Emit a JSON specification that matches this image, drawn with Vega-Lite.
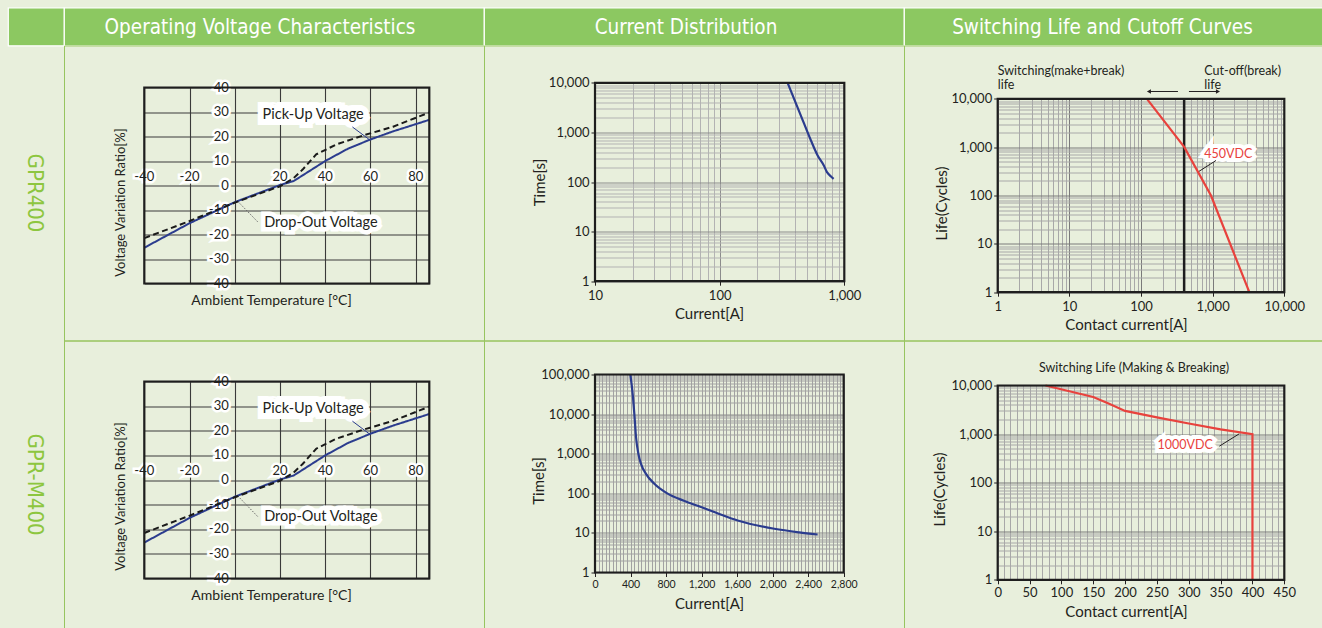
{
  "$schema": "https://vega.github.io/schema/vega-lite/v6.json",
  "background": "#e8efdc",
  "padding": {"left": 7, "top": 6.5, "right": 0, "bottom": 0},
  "columns": 4,
  "spacing": 0,
  "bounds": "flush",
  "align": "each",
  "config": {
    "view": {"stroke": null},
    "text": {"font": "Lato"},
    "axis": {"labelFont": "Lato", "titleFont": "Lato", "labelColor": "#231f20", "titleColor": "#231f20", "titleFontWeight": "normal", "tickColor": "#231f20", "labelFlush": false, "labelOverlap": false}
  },
  "datasets": {
    "volt": [
      {"temp": -40, "ratio": -25.4, "curve": "Pick-Up Voltage"},
      {"temp": -20, "ratio": -15.4, "curve": "Pick-Up Voltage"},
      {"temp": 0, "ratio": -6.8, "curve": "Pick-Up Voltage"},
      {"temp": 20, "ratio": 0.2, "curve": "Pick-Up Voltage"},
      {"temp": 26, "ratio": 1.8, "curve": "Pick-Up Voltage"},
      {"temp": 40, "ratio": 10, "curve": "Pick-Up Voltage"},
      {"temp": 50, "ratio": 15, "curve": "Pick-Up Voltage"},
      {"temp": 60, "ratio": 18.8, "curve": "Pick-Up Voltage"},
      {"temp": 70, "ratio": 22.1, "curve": "Pick-Up Voltage"},
      {"temp": 86, "ratio": 26.8, "curve": "Pick-Up Voltage"},
      {"temp": -40, "ratio": -21.5, "curve": "Drop-Out Voltage"},
      {"temp": -20, "ratio": -14.5, "curve": "Drop-Out Voltage"},
      {"temp": 0, "ratio": -7, "curve": "Drop-Out Voltage"},
      {"temp": 20, "ratio": -0.3, "curve": "Drop-Out Voltage"},
      {"temp": 26, "ratio": 3, "curve": "Drop-Out Voltage"},
      {"temp": 30, "ratio": 6.5, "curve": "Drop-Out Voltage"},
      {"temp": 36, "ratio": 12.7, "curve": "Drop-Out Voltage"},
      {"temp": 45, "ratio": 16.8, "curve": "Drop-Out Voltage"},
      {"temp": 57, "ratio": 20.5, "curve": "Drop-Out Voltage"},
      {"temp": 70, "ratio": 24, "curve": "Drop-Out Voltage"},
      {"temp": 86, "ratio": 29.8, "curve": "Drop-Out Voltage"}
    ],
    "vyt": [{"v": -40}, {"v": -30}, {"v": -20}, {"v": -10}, {"v": 0}, {"v": 10}, {"v": 20}, {"v": 30}, {"v": 40}],
    "vxt": [{"v": -40}, {"v": -20}, {"v": 20}, {"v": 40}, {"v": 60}, {"v": 80}],
    "cur1": [
      {"current": 351, "time": 10000}, {"current": 449, "time": 2160}, {"current": 540, "time": 687},
      {"current": 611, "time": 342}, {"current": 685, "time": 215}, {"current": 726, "time": 158},
      {"current": 782, "time": 129}, {"current": 821, "time": 116}
    ],
    "cur2": [
      {"current": 398, "time": 100000}, {"current": 424, "time": 32500}, {"current": 443, "time": 10000},
      {"current": 462, "time": 2600}, {"current": 488, "time": 1000}, {"current": 518, "time": 555},
      {"current": 574, "time": 310}, {"current": 668, "time": 174}, {"current": 818, "time": 98},
      {"current": 1000, "time": 65}, {"current": 1193, "time": 45}, {"current": 1400, "time": 30},
      {"current": 1606, "time": 20.6}, {"current": 2019, "time": 12.7}, {"current": 2300, "time": 10.3},
      {"current": 2506, "time": 9.1}
    ],
    "life1": [
      {"current": 121, "life": 10000}, {"current": 402, "life": 1000}, {"current": 948, "life": 100}, {"current": 3250, "life": 1}
    ],
    "life2": [
      {"current": 75, "life": 10000}, {"current": 150, "life": 5800}, {"current": 175, "life": 4200},
      {"current": 200, "life": 3000}, {"current": 250, "life": 2200}, {"current": 300, "life": 1650},
      {"current": 350, "life": 1250}, {"current": 400, "life": 1000}, {"current": 400, "life": 1}
    ]
  },
  "concat": [
    {"width": 56, "height": 38, "data": {"values": [{"t": ""}]}, "mark": {"type": "text"}, "encoding": {"text": {"field": "t"}}, "view": {"fill": "#8cc861", "stroke": "#ffffff", "strokeWidth": 1.2}},
    {"width": 420, "height": 38, "data": {"values": [{"t": "Operating Voltage Characteristics"}]}, "mark": {"type": "text", "font": "Liberation Sans Narrow, DejaVu Sans Condensed, Open Sans", "fontSize": 20.5, "fill": "#ffffff", "baseline": "middle", "align": "center", "dx": -14, "dy": 1}, "encoding": {"text": {"field": "t"}}, "view": {"fill": "#8cc861", "stroke": "#ffffff", "strokeWidth": 1.2}},
    {"width": 420, "height": 38, "data": {"values": [{"t": "Current Distribution"}]}, "mark": {"type": "text", "font": "Liberation Sans Narrow, DejaVu Sans Condensed, Open Sans", "fontSize": 20.5, "fill": "#ffffff", "baseline": "middle", "align": "center", "dx": -8, "dy": 1}, "encoding": {"text": {"field": "t"}}, "view": {"fill": "#8cc861", "stroke": "#ffffff", "strokeWidth": 1.2}},
    {"width": 419, "height": 38, "data": {"values": [{"t": "Switching Life and Cutoff Curves"}]}, "mark": {"type": "text", "font": "Liberation Sans Narrow, DejaVu Sans Condensed, Open Sans", "fontSize": 20.5, "fill": "#ffffff", "baseline": "middle", "align": "center", "dx": -11, "dy": 1}, "encoding": {"text": {"field": "t"}}, "view": {"fill": "#8cc861", "stroke": "#ffffff", "strokeWidth": 1.2}},

    {"width": 56, "height": 295, "data": {"values": [{"t": "GPR400"}]}, "mark": {"type": "text", "angle": 90, "font": "Liberation Sans Narrow, DejaVu Sans Condensed, Open Sans", "fontSize": 22, "fill": "#8dc63f", "baseline": "middle", "align": "center", "dy": 1}, "encoding": {"text": {"field": "t"}}},
    {
      "width": 420, "height": 295,
      "view": {"stroke": "#97c45f", "strokeWidth": 1},
      "resolve": {"axis": {"x": "independent", "y": "independent"}},
      "layer": [
        {"data": {"name": "vyt"}, "mark": {"type": "text", "align": "right", "baseline": "middle", "dx": -6, "fontSize": 13, "fill": "#ffffff", "stroke": "#ffffff", "strokeWidth": 5, "strokeJoin": "miter"},
         "encoding": {"x": {"datum": 0, "type": "quantitative", "scale": {"domain": [-40, 86], "range": [80.3, 365.3], "nice": false, "zero": false}, "axis": null}, "y": {"field": "v", "type": "quantitative", "scale": {"domain": [-40, 40], "range": [238, 42], "nice": false, "zero": false}, "axis": null}, "text": {"field": "v", "type": "nominal"}}},
        {"data": {"name": "vyt"}, "mark": {"type": "text", "align": "right", "baseline": "middle", "dx": -6, "fontSize": 13, "fill": "#231f20"},
         "encoding": {"x": {"datum": 0, "type": "quantitative", "axis": null}, "y": {"field": "v", "type": "quantitative", "axis": null}, "text": {"field": "v", "type": "nominal"}}},
        {"data": {"name": "vxt"}, "mark": {"type": "text", "align": "center", "baseline": "bottom", "dy": -2, "fontSize": 13, "fill": "#ffffff", "stroke": "#ffffff", "strokeWidth": 5, "strokeJoin": "miter"},
         "encoding": {"x": {"field": "v", "type": "quantitative", "axis": null}, "y": {"datum": 0, "type": "quantitative", "axis": null}, "text": {"field": "v", "type": "nominal"}}},
        {"data": {"name": "vxt"}, "mark": {"type": "text", "align": "center", "baseline": "bottom", "dy": -2, "fontSize": 13, "fill": "#231f20"},
         "encoding": {"x": {"field": "v", "type": "quantitative", "axis": null}, "y": {"datum": 0, "type": "quantitative", "axis": null}, "text": {"field": "v", "type": "nominal"}}},
        {"data": {"values": [{"label": "Pick-Up Voltage"}]},
         "encoding": {"x": {"datum": 12.3, "type": "quantitative", "axis": null}, "y": {"datum": 28.7, "type": "quantitative", "axis": null}, "text": {"field": "label", "type": "nominal"}},
         "layer": [
           {"mark": {"type": "text", "align": "left", "baseline": "middle", "fontSize": 14.5, "fill": "#ffffff", "stroke": "#ffffff", "strokeWidth": 12, "strokeJoin": "miter"}},
           {"mark": {"type": "text", "align": "left", "baseline": "middle", "fontSize": 14.5, "fill": "#231f20"}}
         ]},
        {"data": {"values": [{"label": "Drop-Out Voltage"}]},
         "encoding": {"x": {"datum": 13, "type": "quantitative", "axis": null}, "y": {"datum": -15.2, "type": "quantitative", "axis": null}, "text": {"field": "label", "type": "nominal"}},
         "layer": [
           {"mark": {"type": "text", "align": "left", "baseline": "middle", "fontSize": 14.5, "fill": "#ffffff", "stroke": "#ffffff", "strokeWidth": 9, "strokeJoin": "miter"}},
           {"mark": {"type": "text", "align": "left", "baseline": "middle", "fontSize": 14.5, "fill": "#231f20"}}
         ]},
        {"data": {"values": [{"k": 1}]}, "mark": {"type": "rule", "stroke": "#2b3c8e", "strokeWidth": 1},
         "encoding": {"x": {"datum": 52, "type": "quantitative", "axis": null}, "y": {"datum": 23.9, "type": "quantitative", "axis": null}, "x2": {"datum": 59.4}, "y2": {"datum": 18.8}}},
        {"data": {"values": [{"k": 1}]}, "mark": {"type": "rule", "stroke": "#666666", "strokeWidth": 1, "strokeDash": [1.5, 1.5]},
         "encoding": {"x": {"datum": 10.1, "type": "quantitative", "axis": null}, "y": {"datum": -14.8, "type": "quantitative", "axis": null}, "x2": {"datum": 1.25}, "y2": {"datum": -6.4}}},
        {"data": {"name": "volt"}, "mark": {"type": "line", "strokeWidth": 2},
         "encoding": {
           "x": {"field": "temp", "type": "quantitative", "axis": {"orient": "bottom", "offset": -57, "grid": false, "labels": false, "ticks": false, "domain": false, "title": "Ambient Temperature [°C]", "titleFontSize": 14, "titlePadding": 10, "titleX": 207}},
           "y": {"field": "ratio", "type": "quantitative", "axis": {"orient": "left", "offset": -80.3, "grid": false, "labels": false, "ticks": false, "domain": false, "title": "Voltage Variation Ratio[%]", "titleFontSize": 13, "titleX": -17, "titleY": 156.5}},
           "color": {"field": "curve", "type": "nominal", "scale": {"domain": ["Pick-Up Voltage", "Drop-Out Voltage"], "range": ["#2b3c8e", "#1a1a1a"]}, "legend": null},
           "strokeDash": {"field": "curve", "type": "nominal", "scale": {"domain": ["Pick-Up Voltage", "Drop-Out Voltage"], "range": [[1, 0], [6, 3.5]]}, "legend": null},
           "order": {"value": null}
         }},
        {"data": {"values": [{"k": 1}]}, "mark": {"type": "rect", "filled": false, "stroke": "#1e1e1e", "strokeWidth": 2.2},
         "encoding": {
           "x": {"datum": -40, "type": "quantitative", "axis": {"orient": "top", "offset": -42, "values": [-40, -20, 0, 20, 40, 60, 80], "grid": true, "gridColor": "#3a3a3a", "gridWidth": 1.1, "labels": false, "ticks": false, "domain": false, "title": null}},
           "x2": {"datum": 86},
           "y": {"datum": -40, "type": "quantitative", "axis": {"orient": "left", "offset": -80.3, "values": [-40, -30, -20, -10, 0, 10, 20, 30, 40], "grid": true, "gridColor": "#3a3a3a", "gridWidth": 1.1, "labels": false, "ticks": false, "domain": false, "title": null}},
           "y2": {"datum": 40}
         }}
      ]
    },
    {
      "width": 420, "height": 295,
      "view": {"stroke": "#97c45f", "strokeWidth": 1},
      "resolve": {"axis": {"x": "independent", "y": "independent"}},
      "layer": [
        {"data": {"name": "cur1"}, "mark": {"type": "line", "color": "#2b3c8e", "strokeWidth": 2.2, "interpolate": "monotone"},
         "encoding": {
           "x": {"field": "current", "type": "quantitative", "scale": {"type": "log", "domain": [10, 1000], "range": [111, 360.3], "nice": false}, "axis": {"orient": "bottom", "offset": -59.3, "values": [10, 100, 1000], "format": ",.0f", "grid": false, "domain": false, "tickSize": 4, "labelPadding": 4, "labelFontSize": 13, "title": "Current[A]", "titleFontSize": 15, "titlePadding": 4, "titleX": 225}},
           "y": {"field": "time", "type": "quantitative", "scale": {"type": "log", "domain": [1, 10000], "range": [235.7, 37.3], "nice": false}, "axis": {"orient": "left", "offset": -111, "values": [1, 10, 100, 1000, 10000], "format": ",.0f", "grid": false, "domain": false, "tickSize": 4, "labelPadding": 2, "labelFontSize": 13, "title": "Time[s]", "titleFontSize": 15, "titleX": -48}},
           "order": {"value": null}
         }},
        {"data": {"values": [{"k": 1}]}, "mark": {"type": "rect", "filled": false, "stroke": "#1e1e1e", "strokeWidth": 2.2},
         "encoding": {
           "x": {"datum": 10, "type": "quantitative", "axis": {"orient": "top", "offset": -37.3, "values": [10, 20, 30, 40, 50, 60, 70, 80, 90, 100, 200, 300, 400, 500, 600, 700, 800, 900, 1000], "grid": true, "gridColor": {"condition": {"test": "indexof([1,10,100,1000,10000,100000], datum.value) >= 0", "value": "#8c8c8c"}, "value": "#b3b3b3"}, "labels": false, "ticks": false, "domain": false, "title": null}},
           "x2": {"datum": 1000},
           "y": {"datum": 1, "type": "quantitative", "axis": {"orient": "left", "offset": -111, "values": [1, 2, 3, 4, 5, 6, 7, 8, 9, 10, 20, 30, 40, 50, 60, 70, 80, 90, 100, 200, 300, 400, 500, 600, 700, 800, 900, 1000, 2000, 3000, 4000, 5000, 6000, 7000, 8000, 9000, 10000], "grid": true, "gridColor": {"condition": {"test": "indexof([1,10,100,1000,10000,100000], datum.value) >= 0", "value": "#8c8c8c"}, "value": "#b3b3b3"}, "labels": false, "ticks": false, "domain": false, "title": null}},
           "y2": {"datum": 10000}
         }}
      ]
    },
    {
      "width": 419, "height": 295,
      "view": {"stroke": "#97c45f", "strokeWidth": 1},
      "resolve": {"axis": {"x": "independent", "y": "independent"}},
      "layer": [
        {"data": {"values": [{"label": "Switching(make+break)\nlife"}]}, "mark": {"type": "text", "align": "left", "baseline": "top", "fontSize": 12.5, "lineHeight": 14.5, "lineBreak": "\n", "fill": "#231f20"},
         "encoding": {"x": {"datum": 1, "type": "quantitative", "scale": {"type": "log", "domain": [1, 10000], "range": [93.7, 380.3], "nice": false}, "axis": null}, "y": {"datum": 51200, "type": "quantitative", "scale": {"type": "log", "domain": [1, 10000], "range": [246.7, 53.3], "nice": false}, "axis": null}, "text": {"field": "label", "type": "nominal"}}},
        {"data": {"values": [{"label": "Cut-off(break)\nlife"}]}, "mark": {"type": "text", "align": "left", "baseline": "top", "fontSize": 12.5, "lineHeight": 14.5, "lineBreak": "\n", "fill": "#231f20"},
         "encoding": {"x": {"datum": 765, "type": "quantitative", "axis": null}, "y": {"datum": 51200, "type": "quantitative", "axis": null}, "text": {"field": "label", "type": "nominal"}}},
        {"data": {"values": [{"k": 1}]}, "mark": {"type": "rule", "stroke": "#231f20", "strokeWidth": 1},
         "encoding": {"x": {"datum": 129, "type": "quantitative", "axis": null}, "x2": {"datum": 328}, "y": {"datum": 14160, "type": "quantitative", "axis": null}}},
        {"data": {"values": [{"k": 1}]}, "mark": {"type": "point", "shape": "triangle-left", "size": 22, "filled": true, "color": "#231f20", "opacity": 1},
         "encoding": {"x": {"datum": 129, "type": "quantitative", "axis": null}, "y": {"datum": 14160, "type": "quantitative", "axis": null}}},
        {"data": {"values": [{"k": 1}]}, "mark": {"type": "rule", "stroke": "#231f20", "strokeWidth": 1},
         "encoding": {"x": {"datum": 467, "type": "quantitative", "axis": null}, "x2": {"datum": 1186}, "y": {"datum": 14160, "type": "quantitative", "axis": null}}},
        {"data": {"values": [{"k": 1}]}, "mark": {"type": "point", "shape": "triangle-right", "size": 22, "filled": true, "color": "#231f20", "opacity": 1},
         "encoding": {"x": {"datum": 1186, "type": "quantitative", "axis": null}, "y": {"datum": 14160, "type": "quantitative", "axis": null}}},
        {"data": {"values": [{"label": "450VDC"}]},
         "encoding": {"x": {"datum": 765, "type": "quantitative", "axis": null}, "y": {"datum": 729, "type": "quantitative", "axis": null}, "text": {"field": "label", "type": "nominal"}},
         "layer": [
           {"mark": {"type": "text", "align": "left", "baseline": "middle", "fontSize": 12.5, "fill": "#ffffff", "stroke": "#ffffff", "strokeWidth": 8, "strokeJoin": "miter"}},
           {"mark": {"type": "text", "align": "left", "baseline": "middle", "fontSize": 12.5, "fill": "#e8423d"}}
         ]},
        {"data": {"values": [{"k": 1}]}, "mark": {"type": "rule", "stroke": "#231f20", "strokeWidth": 1},
         "encoding": {"x": {"datum": 1114, "type": "quantitative", "axis": null}, "y": {"datum": 530, "type": "quantitative", "axis": null}, "x2": {"datum": 618}, "y2": {"datum": 303}}},
        {"data": {"values": [{"k": 1}]}, "mark": {"type": "rule", "stroke": "#1e1e1e", "strokeWidth": 2.5},
         "encoding": {"x": {"datum": 400, "type": "quantitative", "axis": null}, "y": {"datum": 1, "type": "quantitative", "axis": null}, "y2": {"datum": 10000}}},
        {"data": {"name": "life1"}, "mark": {"type": "line", "color": "#e8423d", "strokeWidth": 2.2},
         "encoding": {
           "x": {"field": "current", "type": "quantitative", "axis": {"orient": "bottom", "offset": -48.3, "values": [1, 10, 100, 1000, 10000], "format": ",.0f", "grid": false, "domain": false, "tickSize": 4, "labelPadding": 4, "labelFontSize": 13, "title": "Contact current[A]", "titleFontSize": 15, "titlePadding": 4, "titleX": 222}},
           "y": {"field": "life", "type": "quantitative", "axis": {"orient": "left", "offset": -93.7, "values": [1, 10, 100, 1000, 10000], "format": ",.0f", "grid": false, "domain": false, "tickSize": 4, "labelPadding": 2, "labelFontSize": 13, "title": "Life(Cycles)", "titleFontSize": 15, "titleX": -48, "titleY": 157.5}},
           "order": {"value": null}
         }},
        {"data": {"values": [{"k": 1}]}, "mark": {"type": "rect", "filled": false, "stroke": "#1e1e1e", "strokeWidth": 2.2},
         "encoding": {
           "x": {"datum": 1, "type": "quantitative", "axis": {"orient": "top", "offset": -53.3, "values": [1, 2, 3, 4, 5, 6, 7, 8, 9, 10, 20, 30, 40, 50, 60, 70, 80, 90, 100, 200, 300, 400, 500, 600, 700, 800, 900, 1000, 2000, 3000, 4000, 5000, 6000, 7000, 8000, 9000, 10000], "grid": true, "gridColor": {"condition": {"test": "indexof([1,10,100,1000,10000,100000], datum.value) >= 0", "value": "#7a7a7a"}, "value": "#a8a8a8"}, "labels": false, "ticks": false, "domain": false, "title": null}},
           "x2": {"datum": 10000},
           "y": {"datum": 1, "type": "quantitative", "axis": {"orient": "left", "offset": -93.7, "values": [1, 2, 3, 4, 5, 6, 7, 8, 9, 10, 20, 30, 40, 50, 60, 70, 80, 90, 100, 200, 300, 400, 500, 600, 700, 800, 900, 1000, 2000, 3000, 4000, 5000, 6000, 7000, 8000, 9000, 10000], "grid": true, "gridColor": {"condition": {"test": "indexof([1,10,100,1000,10000,100000], datum.value) >= 0", "value": "#7a7a7a"}, "value": "#a8a8a8"}, "labels": false, "ticks": false, "domain": false, "title": null}},
           "y2": {"datum": 10000}
         }}
      ]
    },

    {"width": 56, "height": 288, "data": {"values": [{"t": "GPR-M400"}]}, "mark": {"type": "text", "angle": 90, "font": "Liberation Sans Narrow, DejaVu Sans Condensed, Open Sans", "fontSize": 22, "fill": "#8dc63f", "baseline": "middle", "align": "center", "dy": 1}, "encoding": {"text": {"field": "t"}}},
    {
      "width": 420, "height": 288,
      "view": {"stroke": "#97c45f", "strokeWidth": 1},
      "resolve": {"axis": {"x": "independent", "y": "independent"}},
      "layer": [
        {"data": {"name": "vyt"}, "mark": {"type": "text", "align": "right", "baseline": "middle", "dx": -6, "fontSize": 13, "fill": "#ffffff", "stroke": "#ffffff", "strokeWidth": 5, "strokeJoin": "miter"},
         "encoding": {"x": {"datum": 0, "type": "quantitative", "scale": {"domain": [-40, 86], "range": [80.3, 365.3], "nice": false, "zero": false}, "axis": null}, "y": {"field": "v", "type": "quantitative", "scale": {"domain": [-40, 40], "range": [238, 41], "nice": false, "zero": false}, "axis": null}, "text": {"field": "v", "type": "nominal"}}},
        {"data": {"name": "vyt"}, "mark": {"type": "text", "align": "right", "baseline": "middle", "dx": -6, "fontSize": 13, "fill": "#231f20"},
         "encoding": {"x": {"datum": 0, "type": "quantitative", "axis": null}, "y": {"field": "v", "type": "quantitative", "axis": null}, "text": {"field": "v", "type": "nominal"}}},
        {"data": {"name": "vxt"}, "mark": {"type": "text", "align": "center", "baseline": "bottom", "dy": -2, "fontSize": 13, "fill": "#ffffff", "stroke": "#ffffff", "strokeWidth": 5, "strokeJoin": "miter"},
         "encoding": {"x": {"field": "v", "type": "quantitative", "axis": null}, "y": {"datum": 0, "type": "quantitative", "axis": null}, "text": {"field": "v", "type": "nominal"}}},
        {"data": {"name": "vxt"}, "mark": {"type": "text", "align": "center", "baseline": "bottom", "dy": -2, "fontSize": 13, "fill": "#231f20"},
         "encoding": {"x": {"field": "v", "type": "quantitative", "axis": null}, "y": {"datum": 0, "type": "quantitative", "axis": null}, "text": {"field": "v", "type": "nominal"}}},
        {"data": {"values": [{"label": "Pick-Up Voltage"}]},
         "encoding": {"x": {"datum": 12.3, "type": "quantitative", "axis": null}, "y": {"datum": 28.7, "type": "quantitative", "axis": null}, "text": {"field": "label", "type": "nominal"}},
         "layer": [
           {"mark": {"type": "text", "align": "left", "baseline": "middle", "fontSize": 14.5, "fill": "#ffffff", "stroke": "#ffffff", "strokeWidth": 12, "strokeJoin": "miter"}},
           {"mark": {"type": "text", "align": "left", "baseline": "middle", "fontSize": 14.5, "fill": "#231f20"}}
         ]},
        {"data": {"values": [{"label": "Drop-Out Voltage"}]},
         "encoding": {"x": {"datum": 13, "type": "quantitative", "axis": null}, "y": {"datum": -15.2, "type": "quantitative", "axis": null}, "text": {"field": "label", "type": "nominal"}},
         "layer": [
           {"mark": {"type": "text", "align": "left", "baseline": "middle", "fontSize": 14.5, "fill": "#ffffff", "stroke": "#ffffff", "strokeWidth": 9, "strokeJoin": "miter"}},
           {"mark": {"type": "text", "align": "left", "baseline": "middle", "fontSize": 14.5, "fill": "#231f20"}}
         ]},
        {"data": {"values": [{"k": 1}]}, "mark": {"type": "rule", "stroke": "#2b3c8e", "strokeWidth": 1},
         "encoding": {"x": {"datum": 52, "type": "quantitative", "axis": null}, "y": {"datum": 23.9, "type": "quantitative", "axis": null}, "x2": {"datum": 59.4}, "y2": {"datum": 18.8}}},
        {"data": {"values": [{"k": 1}]}, "mark": {"type": "rule", "stroke": "#666666", "strokeWidth": 1, "strokeDash": [1.5, 1.5]},
         "encoding": {"x": {"datum": 10.1, "type": "quantitative", "axis": null}, "y": {"datum": -14.8, "type": "quantitative", "axis": null}, "x2": {"datum": 1.25}, "y2": {"datum": -6.4}}},
        {"data": {"name": "volt"}, "mark": {"type": "line", "strokeWidth": 2},
         "encoding": {
           "x": {"field": "temp", "type": "quantitative", "axis": {"orient": "bottom", "offset": -50, "grid": false, "labels": false, "ticks": false, "domain": false, "title": "Ambient Temperature [°C]", "titleFontSize": 14, "titlePadding": 10, "titleX": 207}},
           "y": {"field": "ratio", "type": "quantitative", "axis": {"orient": "left", "offset": -80.3, "grid": false, "labels": false, "ticks": false, "domain": false, "title": "Voltage Variation Ratio[%]", "titleFontSize": 13, "titleX": -17, "titleY": 155.5}},
           "color": {"field": "curve", "type": "nominal", "scale": {"domain": ["Pick-Up Voltage", "Drop-Out Voltage"], "range": ["#2b3c8e", "#1a1a1a"]}, "legend": null},
           "strokeDash": {"field": "curve", "type": "nominal", "scale": {"domain": ["Pick-Up Voltage", "Drop-Out Voltage"], "range": [[1, 0], [6, 3.5]]}, "legend": null},
           "order": {"value": null}
         }},
        {"data": {"values": [{"k": 1}]}, "mark": {"type": "rect", "filled": false, "stroke": "#1e1e1e", "strokeWidth": 2.2},
         "encoding": {
           "x": {"datum": -40, "type": "quantitative", "axis": {"orient": "top", "offset": -41, "values": [-40, -20, 0, 20, 40, 60, 80], "grid": true, "gridColor": "#3a3a3a", "gridWidth": 1.1, "labels": false, "ticks": false, "domain": false, "title": null}},
           "x2": {"datum": 86},
           "y": {"datum": -40, "type": "quantitative", "axis": {"orient": "left", "offset": -80.3, "values": [-40, -30, -20, -10, 0, 10, 20, 30, 40], "grid": true, "gridColor": "#3a3a3a", "gridWidth": 1.1, "labels": false, "ticks": false, "domain": false, "title": null}},
           "y2": {"datum": 40}
         }}
      ]
    },
    {
      "width": 420, "height": 288,
      "view": {"stroke": "#97c45f", "strokeWidth": 1},
      "resolve": {"axis": {"x": "independent", "y": "independent"}},
      "layer": [
        {"data": {"name": "cur2"}, "mark": {"type": "line", "color": "#2b3c8e", "strokeWidth": 2.2, "interpolate": "monotone"},
         "encoding": {
           "x": {"field": "current", "type": "quantitative", "scale": {"type": "linear", "domain": [0, 2800], "range": [111, 359.7], "nice": false, "zero": false}, "axis": {"orient": "bottom", "offset": -56, "values": [0, 400, 800, 1200, 1600, 2000, 2400, 2800], "format": ",.0f", "grid": false, "domain": false, "tickSize": 4, "labelPadding": 3, "labelFontSize": 10.5, "title": "Current[A]", "titleFontSize": 15, "titlePadding": 6, "titleX": 225}},
           "y": {"field": "time", "type": "quantitative", "scale": {"type": "log", "domain": [1, 100000], "range": [232, 34], "nice": false}, "axis": {"orient": "left", "offset": -111, "values": [1, 10, 100, 1000, 10000, 100000], "format": ",.0f", "grid": false, "domain": false, "tickSize": 4, "labelPadding": 2, "labelFontSize": 13, "title": "Time[s]", "titleFontSize": 15, "titleX": -49, "titleY": 140}},
           "order": {"value": null}
         }},
        {"data": {"values": [{"k": 1}]}, "mark": {"type": "rect", "filled": false, "stroke": "#1e1e1e", "strokeWidth": 2.2},
         "encoding": {
           "x": {"datum": 0, "type": "quantitative", "axis": {"orient": "top", "offset": -34, "values": [0, 40, 80, 120, 160, 200, 240, 280, 320, 360, 400, 440, 480, 520, 560, 600, 640, 680, 720, 760, 800, 840, 880, 920, 960, 1000, 1040, 1080, 1120, 1160, 1200, 1240, 1280, 1320, 1360, 1400, 1440, 1480, 1520, 1560, 1600, 1640, 1680, 1720, 1760, 1800, 1840, 1880, 1920, 1960, 2000, 2040, 2080, 2120, 2160, 2200, 2240, 2280, 2320, 2360, 2400, 2440, 2480, 2520, 2560, 2600, 2640, 2680, 2720, 2760, 2800], "grid": true, "gridColor": "#a2a2a2", "labels": false, "ticks": false, "domain": false, "title": null}},
           "x2": {"datum": 2800},
           "y": {"datum": 1, "type": "quantitative", "axis": {"orient": "left", "offset": -111, "values": [1, 2, 3, 4, 5, 6, 7, 8, 9, 10, 20, 30, 40, 50, 60, 70, 80, 90, 100, 200, 300, 400, 500, 600, 700, 800, 900, 1000, 2000, 3000, 4000, 5000, 6000, 7000, 8000, 9000, 10000, 20000, 30000, 40000, 50000, 60000, 70000, 80000, 90000, 100000], "grid": true, "gridColor": {"condition": {"test": "indexof([1,10,100,1000,10000,100000], datum.value) >= 0", "value": "#8c8c8c"}, "value": "#a2a2a2"}, "labels": false, "ticks": false, "domain": false, "title": null}},
           "y2": {"datum": 100000}
         }}
      ]
    },
    {
      "width": 419, "height": 288,
      "view": {"stroke": "#97c45f", "strokeWidth": 1},
      "resolve": {"axis": {"x": "independent", "y": "independent"}},
      "layer": [
        {"data": {"values": [{"label": "Switching Life (Making & Breaking)"}]}, "mark": {"type": "text", "align": "center", "baseline": "middle", "fontSize": 12.5, "fill": "#231f20"},
         "encoding": {"x": {"datum": 214, "type": "quantitative", "scale": {"type": "linear", "domain": [0, 450], "range": [93.7, 380.3], "nice": false, "zero": false}, "axis": null}, "y": {"datum": 22900, "type": "quantitative", "scale": {"type": "log", "domain": [1, 10000], "range": [239.3, 45], "nice": false}, "axis": null}, "text": {"field": "label", "type": "nominal"}}},
        {"data": {"values": [{"label": "1000VDC"}]},
         "encoding": {"x": {"datum": 251, "type": "quantitative", "axis": null}, "y": {"datum": 587, "type": "quantitative", "axis": null}, "text": {"field": "label", "type": "nominal"}},
         "layer": [
           {"mark": {"type": "text", "align": "left", "baseline": "middle", "fontSize": 12.5, "fill": "#ffffff", "stroke": "#ffffff", "strokeWidth": 8, "strokeJoin": "miter"}},
           {"mark": {"type": "text", "align": "left", "baseline": "middle", "fontSize": 12.5, "fill": "#e8423d"}}
         ]},
        {"data": {"values": [{"k": 1}]}, "mark": {"type": "rule", "stroke": "#231f20", "strokeWidth": 1},
         "encoding": {"x": {"datum": 348, "type": "quantitative", "axis": null}, "y": {"datum": 563, "type": "quantitative", "axis": null}, "x2": {"datum": 379.3}, "y2": {"datum": 1014}}},
        {"data": {"name": "life2"}, "mark": {"type": "line", "color": "#e8423d", "strokeWidth": 2.2},
         "encoding": {
           "x": {"field": "current", "type": "quantitative", "axis": {"orient": "bottom", "offset": -48.7, "values": [0, 50, 100, 150, 200, 250, 300, 350, 400, 450], "format": ",.0f", "grid": false, "domain": false, "tickSize": 4, "labelPadding": 3, "labelFontSize": 13, "title": "Contact current[A]", "titleFontSize": 15, "titlePadding": 5, "titleX": 222}},
           "y": {"field": "life", "type": "quantitative", "axis": {"orient": "left", "offset": -93.7, "values": [1, 10, 100, 1000, 10000], "format": ",.0f", "grid": false, "domain": false, "tickSize": 4, "labelPadding": 2, "labelFontSize": 13, "title": "Life(Cycles)", "titleFontSize": 15, "titleX": -50, "titleY": 148.5}},
           "order": {"value": null}
         }},
        {"data": {"values": [{"k": 1}]}, "mark": {"type": "rect", "filled": false, "stroke": "#1e1e1e", "strokeWidth": 2.2},
         "encoding": {
           "x": {"datum": 0, "type": "quantitative", "axis": {"orient": "top", "offset": -45, "values": [0, 10, 20, 30, 40, 50, 60, 70, 80, 90, 100, 110, 120, 130, 140, 150, 160, 170, 180, 190, 200, 210, 220, 230, 240, 250, 260, 270, 280, 290, 300, 310, 320, 330, 340, 350, 360, 370, 380, 390, 400, 410, 420, 430, 440, 450], "grid": true, "gridColor": "#a8a8a8", "labels": false, "ticks": false, "domain": false, "title": null}},
           "x2": {"datum": 450},
           "y": {"datum": 1, "type": "quantitative", "axis": {"orient": "left", "offset": -93.7, "values": [1, 2, 3, 4, 5, 6, 7, 8, 9, 10, 20, 30, 40, 50, 60, 70, 80, 90, 100, 200, 300, 400, 500, 600, 700, 800, 900, 1000, 2000, 3000, 4000, 5000, 6000, 7000, 8000, 9000, 10000], "grid": true, "gridColor": {"condition": {"test": "indexof([1,10,100,1000,10000,100000], datum.value) >= 0", "value": "#7a7a7a"}, "value": "#a8a8a8"}, "labels": false, "ticks": false, "domain": false, "title": null}},
           "y2": {"datum": 10000}
         }}
      ]
    }
  ]
}
